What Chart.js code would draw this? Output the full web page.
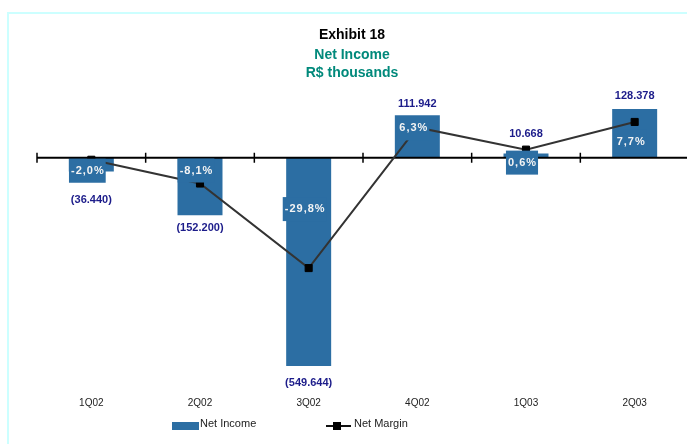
<!DOCTYPE html>
<html>
<head>
<meta charset="utf-8">
<title>Net Income</title>
<script src="https://cdn.jsdelivr.net/npm/chart.js@4"></script>
<style>
  html, body { margin: 0; padding: 0; background: #fff; overflow: hidden; }
  body { width: 687px; height: 444px; position: relative; font-family: "Liberation Sans", Arial, sans-serif; }
  #frame { position: absolute; left: 7px; top: 12px; width: 720px; height: 460px;
           border-top: 2px solid #ccffff; border-left: 2px solid #ccffff; }
  #chart { position: absolute; left: 0; top: 0; }
  .title { position: absolute; left: 0; width: 704px; text-align: center; font-weight: bold;
           font-size: 14px; line-height: 16px; }
  #t1 { top: 26px; color: #000; }
  #t2 { top: 46px; color: #00897b; }
  #t3 { top: 64px; color: #00897b; }
  .legend { position: absolute; font-size: 11px; color: #222; line-height: 13px; }
  .swatch-bar { position: absolute; left: 172px; top: 422px; width: 27px; height: 8px; background: #2c6ea3; }
  .swatch-line { position: absolute; left: 326px; top: 425px; width: 25px; height: 2px; background: #111; }
  .swatch-mark { position: absolute; left: 333px; top: 422px; width: 8px; height: 8px; background: #000; }
</style>
</head>
<body>
<div id="frame"></div>
<canvas id="chart" width="704" height="444"></canvas>
<div class="title" id="t1">Exhibit 18</div>
<div class="title" id="t2">Net Income</div>
<div class="title" id="t3">R$ thousands</div>
<div class="swatch-bar"></div>
<div class="legend" style="left:200px; top:417px;">Net Income</div>
<div class="swatch-line"></div>
<div class="swatch-mark"></div>
<div class="legend" style="left:354px; top:417px;">Net Margin</div>

<script>
// quarterly net income (R$ thousands) and net margin (%)
const quarters = ["1Q02", "2Q02", "3Q02", "4Q02", "1Q03", "2Q03"];
const netIncome = [-36440, -152200, -549644, 111942, 10668, 128378];
const netMargin = [-2.0, -8.1, -29.8, 6.3, 0.6, 7.7];

const BAR_BLUE = "#2c6ea3";

// label placement: gap beyond the bar end, and shift from the margin point
const incomeLabelGap = [28, 13, 17, 11, 20, 13];
const marginLabelShift = [11, -13, -59, 1, 13, 20];

function formatIncome(v) {
  const s = String(Math.abs(v)).replace(/\B(?=(\d{3})+(?!\d))/g, ".");
  return v < 0 ? "(" + s + ")" : s;
}

function formatMargin(v) {
  return v.toFixed(1).replace(".", ",") + "%";
}

// zero line with category tick marks, drawn between the bars and the margin line
const zeroAxis = {
  id: "zeroAxis",
  beforeDatasetDraw(chart, args) {
    if (args.meta.type !== "line") return;
    const { ctx, chartArea, scales } = chart;
    const y0 = scales.y.getPixelForValue(0);
    const half = (scales.x.getPixelForValue(1) - scales.x.getPixelForValue(0)) / 2;
    ctx.save();
    ctx.strokeStyle = "#000";
    ctx.lineWidth = 2;
    ctx.beginPath();
    ctx.moveTo(chartArea.left, y0);
    ctx.lineTo(chart.width, y0);
    ctx.stroke();
    ctx.lineWidth = 1.5;
    ctx.beginPath();
    quarters.forEach((q, i) => {
      const x = scales.x.getPixelForValue(i) - half;
      ctx.moveTo(x, y0 - 5);
      ctx.lineTo(x, y0 + 5);
    });
    ctx.stroke();
    ctx.restore();
  }
};

// value labels for the bars and boxed labels for the margins
const valueLabels = {
  id: "valueLabels",
  afterDatasetsDraw(chart) {
    const ctx = chart.ctx;
    const bars = chart.getDatasetMeta(0).data;
    const points = chart.getDatasetMeta(1).data;
    ctx.save();
    ctx.textAlign = "center";
    ctx.textBaseline = "middle";

    ctx.font = "bold 11px 'Liberation Sans', Arial, sans-serif";
    ctx.fillStyle = "#1c1c8a";
    bars.forEach((bar, i) => {
      const y = netIncome[i] < 0 ? bar.y + incomeLabelGap[i] : bar.y - incomeLabelGap[i];
      ctx.fillText(formatIncome(netIncome[i]), bar.x, y);
    });

    ctx.letterSpacing = "1px";
    points.forEach((pt, i) => {
      const text = formatMargin(netMargin[i]);
      const x = pt.x - 4;
      const y = pt.y + marginLabelShift[i];
      const w = ctx.measureText(text).width + 3;
      ctx.fillStyle = BAR_BLUE;
      ctx.fillRect(x - w / 2, y - 12, w, 24);
      ctx.fillStyle = "#f4f4f4";
      ctx.fillText(text, x + 0.5, y);
    });
    ctx.restore();
  }
};

const ctx = document.getElementById("chart").getContext("2d");
new Chart(ctx, {
  data: {
    labels: quarters,
    datasets: [
      {
        type: "bar",
        label: "Net Income",
        data: netIncome,
        backgroundColor: BAR_BLUE,
        barPercentage: 0.414,
        categoryPercentage: 1,
        yAxisID: "y",
        order: 1
      },
      {
        type: "line",
        label: "Net Margin",
        data: netMargin,
        borderColor: "#333",
        borderWidth: 2,
        tension: 0,
        pointStyle: "rect",
        pointRadius: 5,
        pointBorderWidth: 1,
        pointBackgroundColor: "#000",
        pointBorderColor: "#000",
        yAxisID: "y2",
        order: 0
      }
    ]
  },
  options: {
    responsive: false,
    animation: false,
    layout: { padding: { top: 44, bottom: 23, left: 37, right: 15 } },
    scales: {
      x: {
        grid: { display: false, drawTicks: false },
        border: { display: false },
        ticks: {
          padding: 12,
          color: "#222",
          font: { family: "'Liberation Sans', Arial, sans-serif", size: 10 }
        }
      },
      y: { display: false, min: -600000, max: 300000 },
      y2: { display: false, min: -59.8, max: 27.7 }
    },
    plugins: {
      legend: { display: false },
      tooltip: { enabled: false }
    }
  },
  plugins: [zeroAxis, valueLabels]
});
</script>
</body>
</html>
